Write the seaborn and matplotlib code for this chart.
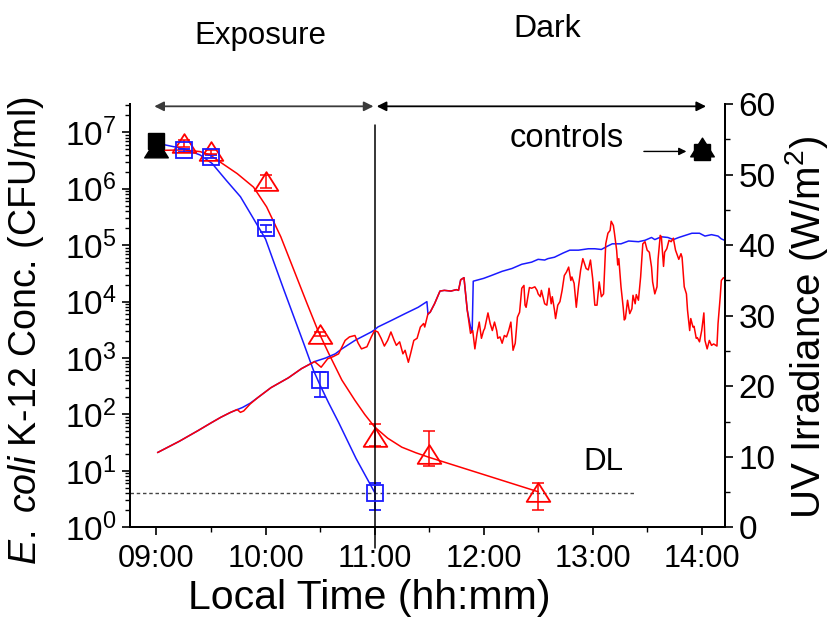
import numpy as np
import matplotlib
matplotlib.use("Agg")
import matplotlib.pyplot as plt
from matplotlib.path import Path
from matplotlib.ticker import FixedLocator, MultipleLocator, FuncFormatter, LogLocator, NullFormatter
import seaborn as sns

# ---- bacteria counts (CFU/ml), time in decimal hours ----
sq_time = [9.25, 9.5, 10.0, 10.5, 11.0]
sq_conc = [4.8e6, 3.7e6, 2.0e5, 400, 4.1]
sq_err_lo = [0.3e6, 0.2e6, 0.3e5, 200, 2.1]
sq_err_hi = [0.3e6, 0.2e6, 0.3e5, 160, 2.0]

tri_time = [9.25, 9.5, 10.0, 10.5, 11.0, 11.5, 12.5]
tri_conc = [6.4e6, 4.6e6, 1.4e6, 2.7e3, 40, 20, 4.3]
tri_err_lo = [0.9e6, 0.4e6, 0.38e6, 0.2e3, 12, 8, 2.3]
tri_err_hi = [0.9e6, 0.3e6, 0.35e6, 0.2e3, 27, 30, 1.7]

ctrl_time = [9.0, 14.0]
ctrl_sq = [7.1e6, 4.5e6]
ctrl_tri = [5.2e6, 5.5e6]

# fitted curves (log10 CFU/ml)
sq_fit_time = [9.0, 9.25, 9.4, 9.51, 9.64, 9.77, 9.89, 10.0, 10.08, 10.17, 10.26,
               10.35, 10.44, 10.5, 10.58, 10.67, 10.83, 11.0]
sq_fit_log = [6.81, 6.71, 6.60, 6.45, 6.15, 5.86, 5.47, 5.11, 4.68, 4.20, 3.73,
              3.26, 2.78, 2.52, 2.20, 1.86, 1.22, 0.62]
tri_fit_time = [9.0, 9.25, 9.4, 9.5, 9.58, 9.74, 9.89, 10.01, 10.14, 10.26, 10.38,
                10.48, 10.58, 10.7, 10.82, 10.91, 11.0, 11.12, 11.25, 11.38, 11.5, 12.5]
tri_fit_log = [6.68, 6.69, 6.66, 6.59, 6.48, 6.27, 6.03, 5.68, 5.15, 4.56, 3.97,
               3.49, 3.08, 2.61, 2.25, 2.0, 1.78, 1.58, 1.42, 1.32, 1.24, 0.63]

dl = 4.0          # detection limit
dl_end = 13.38
exposure_end = 11.0

# ---- UV irradiance (W/m2) ----
uv_blue_time = [9.01, 9.21, 9.38, 9.50, 9.59, 9.68, 9.79, 9.86, 9.93, 10.05, 10.21, 10.33,
                10.45, 10.55, 10.64, 10.70, 10.82, 10.97, 11.00, 11.03, 11.15, 11.28, 11.40,
                11.48, 11.49, 11.51, 11.55, 11.60, 11.64, 11.70, 11.75, 11.77, 11.79, 11.82,
                11.85, 11.88, 11.895, 11.905, 12.0, 12.07, 12.17, 12.26, 12.35, 12.44, 12.50,
                12.56, 12.59, 12.65, 12.73, 12.79, 12.87, 12.96, 13.02, 13.08, 13.14, 13.18,
                13.26, 13.33, 13.42, 13.48, 13.54, 13.57, 13.63, 13.69, 13.74, 13.79, 13.85,
                13.91, 13.98, 14.03, 14.09, 14.15, 14.18, 14.21]
uv_blue = [10.6, 12.2, 13.7, 14.8, 15.6, 16.3, 17.0, 17.6, 18.4, 19.8, 21.2, 22.5,
           23.5, 24.0, 24.6, 25.3, 26.5, 27.7, 28.0, 28.4, 29.3, 30.3, 31.2,
           32.0, 30.2, 30.5, 31.7, 33.5, 33.6, 33.5, 33.7, 33.6, 35.1, 35.4,
           30.8, 28.4, 27.7, 34.9, 35.3, 35.7, 36.3, 36.7, 37.3, 37.6, 38.0,
           37.9, 38.1, 38.3, 38.9, 39.3, 39.3, 39.5, 39.5, 39.4, 39.9, 40.2,
           40.2, 40.6, 40.5, 40.7, 41.1, 40.8, 41.2, 41.1, 40.8, 41.1, 41.4,
           41.7, 41.7, 41.3, 41.5, 41.3, 40.9, 40.7]

uv_red_time = [9.01, 9.21, 9.38, 9.50, 9.59, 9.68, 9.74, 9.77, 9.80, 9.86, 9.93, 10.05, 10.21,
               10.33, 10.45, 10.51, 10.57, 10.62, 10.67, 10.73, 10.77, 10.82, 10.85, 10.88,
               10.93, 10.97, 11.00, 11.03, 11.06, 11.09, 11.12, 11.15, 11.18, 11.20, 11.23,
               11.26, 11.28, 11.31, 11.33, 11.36, 11.39, 11.42, 11.45, 11.46, 11.49, 11.51,
               11.55, 11.60, 11.64, 11.70, 11.75, 11.77, 11.79, 11.82, 11.85, 11.88, 11.90,
               11.92, 11.94, 11.96, 11.98, 12.00, 12.01, 12.04, 12.06, 12.08, 12.10, 12.12,
               12.13, 12.15, 12.17, 12.19, 12.21, 12.23, 12.25, 12.27, 12.29, 12.31, 12.33,
               12.35, 12.37, 12.38, 12.39, 12.42, 12.44, 12.47, 12.49, 12.50, 12.52, 12.53,
               12.56, 12.58, 12.60, 12.62, 12.63, 12.65, 12.66, 12.68, 12.70, 12.72, 12.74,
               12.76, 12.78, 12.80, 12.81, 12.83, 12.85, 12.87, 12.89, 12.91, 12.94, 12.96,
               12.98, 13.00, 13.02, 13.04, 13.06, 13.08, 13.10, 13.12, 13.14, 13.16, 13.17,
               13.19, 13.20, 13.22, 13.23, 13.24, 13.26, 13.28, 13.29, 13.30, 13.32, 13.34,
               13.36, 13.37, 13.39, 13.40, 13.42, 13.44, 13.46, 13.48, 13.50, 13.52, 13.54,
               13.55, 13.57, 13.59, 13.60, 13.62, 13.63, 13.65, 13.66, 13.68, 13.70, 13.72,
               13.74, 13.76, 13.79, 13.81, 13.82, 13.84, 13.86, 13.87, 13.89, 13.90, 13.92,
               13.93, 13.95, 13.96, 13.98, 14.00, 14.02, 14.03, 14.05, 14.07, 14.09, 14.11,
               14.14, 14.15, 14.17, 14.18, 14.20, 14.21]
uv_red = [10.6, 12.2, 13.7, 14.8, 15.6, 16.3, 16.7, 16.3, 16.5, 17.5, 18.4, 19.8, 21.2,
          22.5, 23.5, 22.7, 23.9, 24.2, 24.6, 26.5, 27.0, 27.2, 26.1, 25.3,
          25.6, 27.0, 27.9, 27.7, 26.8, 25.7, 26.5, 27.7, 26.5, 25.8, 26.3,
          24.6, 25.1, 23.4, 24.6, 26.5, 26.8, 28.4, 28.9, 28.4, 30.3, 30.5,
          31.7, 33.5, 33.6, 33.5, 33.7, 33.6, 35.1, 35.4, 30.8, 27.5, 27.9,
          25.3, 27.5, 29.1, 26.8, 27.9, 28.2, 30.4, 28.9, 27.9, 29.1, 27.9,
          26.8, 27.0, 26.1, 27.2, 27.0, 27.9, 29.1, 25.1, 26.1, 29.8, 30.5,
          33.9, 34.3, 31.5, 31.2, 34.0, 33.9, 34.1, 33.6, 33.1, 32.7, 33.6,
          31.7, 31.5, 33.9, 31.7, 32.7, 30.8, 29.6, 31.5, 32.0, 33.6, 35.7,
          36.2, 36.9, 35.0, 35.5, 34.6, 31.2, 34.1, 36.5, 38.1, 36.7, 36.5,
          37.9, 35.3, 31.5, 31.5, 34.8, 32.7, 33.1, 40.2, 41.7, 42.1, 43.4,
          42.8, 41.7, 39.3, 37.2, 38.1, 34.1, 31.2, 29.4, 29.6, 32.2, 30.3,
          31.0, 32.9, 31.7, 33.0, 32.2, 35.5, 40.2, 40.5, 39.3, 39.0, 36.9,
          34.8, 33.1, 34.1, 38.0, 41.4, 41.2, 37.0, 39.0, 39.5, 40.7, 40.5,
          41.0, 39.3, 38.0, 38.8, 38.3, 34.1, 33.1, 30.8, 27.9, 29.6, 28.4,
          28.5, 26.8, 26.9, 26.3, 27.9, 30.4, 26.5, 25.3, 26.5, 25.8, 26.0,
          25.7, 28.9, 32.7, 35.0, 35.4, 35.3]

x_ticks = [9, 10, 11, 12, 13, 14]

sns.set_style("ticks")
plt.rcParams['font.family'] = ['Liberation Sans', 'DejaVu Sans']
plt.rcParams['mathtext.fontset'] = 'custom'
plt.rcParams['mathtext.rm'] = 'Liberation Sans'
plt.rcParams['mathtext.it'] = 'Liberation Sans:italic'
plt.rcParams['mathtext.bf'] = 'Liberation Sans:bold'
for key in ('text.color', 'axes.labelcolor', 'xtick.color', 'ytick.color', 'axes.edgecolor'):
    plt.rcParams[key] = 'black'

BLUE = '#1a1aff'
RED = '#ff0000'

# wide open triangle like the Origin symbol
tri_mark = Path([(-1.2, -0.95), (1.2, -0.95), (0, 0.95), (-1.2, -0.95)], closed=True)

fig = plt.figure(figsize=(8.3, 6.24), dpi=100)
ax = fig.add_axes([0.157, 0.155, 0.716, 0.678])
ax.set_yscale('log')

# fits
sns.lineplot(x=sq_fit_time, y=10 ** np.array(sq_fit_log), ax=ax, color=BLUE, lw=1.1, estimator=None)
sns.lineplot(x=tri_fit_time, y=10 ** np.array(tri_fit_log), ax=ax, color=RED, lw=1.1, estimator=None)

# detection limit
ax.plot([8.76, dl_end], [dl, dl], ls=(0, (2.5, 2)), color='#444444', lw=1.0)

# data points
ax.errorbar(sq_time, sq_conc, yerr=[sq_err_lo, sq_err_hi], fmt='s', ms=12, mfc='none',
            mec=BLUE, mew=1.3, ecolor=BLUE, elinewidth=1.1, capsize=4.5, capthick=1.1)
ax.errorbar(tri_time, tri_conc, yerr=[tri_err_lo, tri_err_hi], fmt='none',
            ecolor=RED, elinewidth=1.1, capsize=4.5, capthick=1.1)
ax.plot(tri_time, tri_conc, ls='none', marker=tri_mark, ms=17, mfc='none', mec=RED, mew=1.3)

# controls
ax.plot(ctrl_time, ctrl_sq, ls='none', marker='s', ms=12, color='k')
ax.plot(ctrl_time, ctrl_tri, ls='none', marker=tri_mark, ms=17, color='k')

ax.set_xlim(8.76, 14.21)
ax.set_ylim(1, 10 ** 7.5)

# exposure / dark separator
ax.plot([exposure_end, exposure_end], [-0.05, 0.95], transform=ax.get_xaxis_transform(),
        clip_on=False, color='k', lw=1.1)

ax.annotate("", xy=(8.98, 0.995), xytext=(exposure_end - 0.01, 0.995),
            xycoords=('data', 'axes fraction'), textcoords=('data', 'axes fraction'),
            arrowprops=dict(arrowstyle='<|-|>', color='#3a3a3a', lw=1.3, mutation_scale=14,
                            shrinkA=0, shrinkB=0), annotation_clip=False)
ax.annotate("", xy=(exposure_end + 0.02, 0.995), xytext=(14.04, 0.995),
            xycoords=('data', 'axes fraction'), textcoords=('data', 'axes fraction'),
            arrowprops=dict(arrowstyle='<|-|>', color='k', lw=1.3, mutation_scale=14,
                            shrinkA=0, shrinkB=0), annotation_clip=False)
ax.annotate("", xy=(13.86, 4.6e6), xytext=(13.47, 4.6e6),
            arrowprops=dict(arrowstyle='-|>', color='k', lw=1.0, mutation_scale=11,
                            shrinkA=0, shrinkB=0))

ax.text(12.76, 10 ** 6.90, "controls", ha='center', va='center', fontsize=23.5)
ax.text(13.10, 10 ** 1.15, "DL", ha='center', va='center', fontsize=22.5)
fig.text(260 / 830, 1 - 36 / 624, "Exposure", ha='center', va='center', fontsize=22.5)
fig.text(547 / 830, 1 - 29 / 624, "Dark", ha='center', va='center', fontsize=23)

# UV irradiance on the right axis
ax2 = ax.twinx()
sns.lineplot(x=uv_blue_time, y=uv_blue, ax=ax2, color=BLUE, lw=1.1, estimator=None)
sns.lineplot(x=uv_red_time, y=uv_red, ax=ax2, color=RED, lw=1.1, estimator=None)
ax2.set_ylim(0, 60)
ax2.set_xlim(8.76, 14.21)

# ticks
ax.xaxis.set_major_locator(FixedLocator(x_ticks))
ax.xaxis.set_minor_locator(MultipleLocator(0.5))
ax.xaxis.set_major_formatter(FuncFormatter(lambda v, p: f"{int(round(v)):02d}:00"))
ax.yaxis.set_major_locator(LogLocator(base=10, numticks=20))
ax.yaxis.set_minor_locator(LogLocator(base=10, subs=np.arange(2, 10), numticks=20))
ax.yaxis.set_minor_formatter(NullFormatter())
ax2.yaxis.set_major_locator(MultipleLocator(10))
ax2.yaxis.set_minor_locator(MultipleLocator(5))

for a in (ax, ax2):
    a.spines['top'].set_visible(False)
    for s in ('left', 'right', 'bottom'):
        a.spines[s].set_linewidth(1.4)
        a.spines[s].set_color('k')
ax.tick_params(axis='both', which='major', direction='out', length=6, width=1.2, color='k')
ax.tick_params(axis='both', which='minor', direction='out', length=3.5, width=1.0, color='k')
ax.tick_params(axis='x', which='major', pad=6, labelsize=22)
ax.tick_params(axis='y', which='major', pad=4, labelsize=24)
ax.tick_params(axis='x', top=False)
ax.tick_params(axis='y', right=False)
ax2.tick_params(axis='y', which='major', direction='out', length=6, width=1.2,
                labelsize=24, pad=4, color='k')
ax2.tick_params(axis='y', which='minor', direction='out', length=3.5, width=1.0, color='k')

ax.set_xlabel("Local Time (hh:mm)", fontsize=29.5)
ax.xaxis.set_label_coords(0.402, -0.122)
ax.set_ylabel(r"$\mathit{E.}$ $\mathit{coli}$ K-12 Conc. (CFU/ml)", fontsize=27)
ax.yaxis.set_label_coords(-0.142, 0.465)
ax2.set_ylabel("UV Irradiance (W/m$^2$)", fontsize=29)
ax2.yaxis.set_label_coords(1.098, 0.473)

fig.savefig("out.png", dpi=100)
